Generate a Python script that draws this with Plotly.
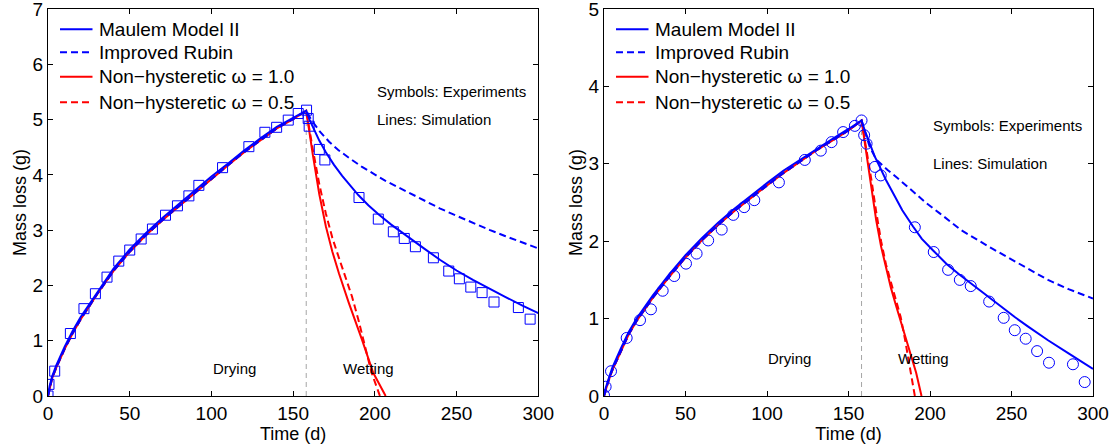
import plotly.graph_objects as go
from plotly.subplots import make_subplots

# ---------------- data: left panel (squares) ----------------
exp_t_L = [0, 0.6, 4.1, 13.7, 22, 29, 36.1, 43.3, 50, 57, 63.9, 71.9, 79.2, 86.2, 92.3, 106.8,
           122.9, 132.7, 139.9, 147, 153.1, 158.2, 159.2, 159.8, 166, 169.4, 190.3, 202.1, 211.3,
           218, 224.8, 235.8, 245.2, 251.7, 258.7, 265.6, 272.9, 287.8, 295]
exp_m_L = [0, 0.21, 0.45, 1.13, 1.58, 1.85, 2.15, 2.44, 2.64, 2.84, 3.02, 3.27, 3.44, 3.62, 3.81, 4.13,
           4.51, 4.77, 4.86, 4.99, 5.11, 5.17, 5.02, 4.88, 4.46, 4.27, 3.59, 3.2, 2.97,
           2.85, 2.70, 2.50, 2.26, 2.12, 1.97, 1.87, 1.70, 1.60, 1.39]

dry_t = [0, 1, 2.5, 5, 10, 15, 20, 25, 30, 40, 50, 60, 70, 80, 90, 100, 110, 120, 130, 140, 150, 158]
dry_m_L = [0, 0.18, 0.35, 0.55, 0.88, 1.17, 1.43, 1.65, 1.88, 2.3, 2.65, 2.95, 3.22, 3.47, 3.72,
           3.97, 4.2, 4.44, 4.66, 4.87, 5.03, 5.16]
dry_m_L_alt = [0, 0.15, 0.32, 0.51, 0.84, 1.13, 1.39, 1.61, 1.84, 2.26, 2.61, 2.91, 3.18, 3.43, 3.68,
               3.93, 4.17, 4.41, 4.63, 4.84, 5.01, 5.16]

maulem_wt_L = [160, 163, 166, 170, 175, 180, 185, 190, 196, 202, 210, 220, 230, 240, 250, 260,
               270, 280, 290, 300]
maulem_wm_L = [5.0, 4.8, 4.62, 4.41, 4.18, 3.98, 3.8, 3.63, 3.45, 3.29, 3.1, 2.88, 2.67, 2.46, 2.27,
               2.1, 1.94, 1.79, 1.64, 1.5]
rubin_wt_L = [161, 166.4, 172, 177.6, 185, 191.9, 206, 218.4, 230, 240, 250, 260, 270.5, 280, 290, 300]
rubin_wm_L = [5.0, 4.78, 4.6, 4.45, 4.29, 4.15, 3.9, 3.71, 3.54, 3.39, 3.26, 3.13, 3.0, 2.89, 2.78, 2.67]
nh10_wt_L = [162, 166, 170, 174, 178, 184, 192, 199, 206.6]
nh10_wm_L = [4.37, 3.65, 3.07, 2.61, 2.22, 1.69, 1.03, 0.42, 0]
nh05_wt_L = [162, 166, 170, 174, 178, 182, 186, 190, 194, 198, 203.1]
nh05_wm_L = [4.47, 3.83, 3.3, 2.86, 2.5, 2.17, 1.8, 1.37, 0.9, 0.42, 0]

# ---------------- data: right panel (circles) ----------------
exp_t_R = [0, 1, 4.3, 13.9, 22.1, 28.8, 36, 43.1, 50.3, 56.8, 63.9, 72.2, 79.3, 86, 92.2, 107.3,
           123.2, 133, 139.6, 146.7, 153.9, 158, 159.6, 161.1, 166.2, 169.8, 190.7, 202.3, 211.1,
           218.3, 225, 236.3, 245.2, 252, 258.7, 265.7, 273, 287.7, 294.9]
exp_m_R = [0.01, 0.12, 0.32, 0.75, 0.98, 1.12, 1.36, 1.55, 1.71, 1.84, 2.01, 2.15, 2.34, 2.44, 2.53, 2.76,
           3.05, 3.17, 3.28, 3.41, 3.49, 3.56, 3.37, 3.26, 2.96, 2.85, 2.18, 1.86, 1.63,
           1.50, 1.42, 1.22, 1.01, 0.85, 0.74, 0.58, 0.43, 0.41, 0.18]

dry_m_R = [0, 0.1, 0.2, 0.36, 0.6, 0.82, 1.0, 1.15, 1.3, 1.57, 1.82, 2.04, 2.24, 2.42, 2.59, 2.75,
           2.91, 3.05, 3.19, 3.32, 3.45, 3.56]
dry_m_R_alt = [0, 0.08, 0.18, 0.33, 0.57, 0.79, 0.97, 1.12, 1.27, 1.54, 1.79, 2.01, 2.21, 2.39, 2.56,
               2.72, 2.88, 3.03, 3.17, 3.3, 3.43, 3.56]

maulem_wt_R = [160, 163.1, 166, 169.2, 173, 177.4, 183, 189.6, 195, 201.9, 210, 218, 225.4, 236.3,
               245, 252, 260, 272.4, 285, 300]
maulem_wm_R = [3.43, 3.26, 3.1, 2.96, 2.79, 2.62, 2.4, 2.19, 2.03, 1.88, 1.71, 1.57, 1.45, 1.27,
               1.13, 1.02, 0.9, 0.72, 0.55, 0.35]
rubin_wt_R = [160, 163, 167.2, 174, 181.5, 190, 197.9, 206, 219.3, 237.7, 255, 272.4, 285, 300]
rubin_wm_R = [3.42, 3.22, 3.05, 2.92, 2.79, 2.64, 2.49, 2.36, 2.14, 1.91, 1.7, 1.5, 1.38, 1.26]
nh10_wt_R = [161, 164, 167, 170, 173, 176, 179, 182, 185, 188, 191.5, 194.8]
nh10_wm_R = [3.12, 2.68, 2.27, 1.93, 1.65, 1.4, 1.18, 0.97, 0.77, 0.56, 0.3, 0]
nh05_wt_R = [161, 164, 167, 170, 173, 176, 179, 182, 184.6, 187.5, 190.7]
nh05_wm_R = [3.2, 2.8, 2.38, 2.0, 1.7, 1.47, 1.25, 1.02, 0.74, 0.38, 0]

switch_t = 158
peak_L = 5.16
peak_R = 3.56

legend_names = ["Maulem Model II", "Improved Rubin",
                "Non\u2212hysteretic \u03c9 = 1.0", "Non\u2212hysteretic \u03c9 = 0.5"]

FONT = "Liberation Sans, Arial, Helvetica, sans-serif"
BLUE = "#0000ff"
RED = "#ff0000"
DASH = "7px,4px"

styles = [dict(color=BLUE, width=2), dict(color=BLUE, width=2, dash=DASH),
          dict(color=RED, width=2), dict(color=RED, width=2, dash=DASH)]

fig = make_subplots(rows=1, cols=2, horizontal_spacing=0.0)

panels = [
    dict(col=1, dm=dry_m_L, dma=dry_m_L_alt, peak=peak_L,
         mw=(maulem_wt_L, maulem_wm_L), rw=(rubin_wt_L, rubin_wm_L),
         n1=(nh10_wt_L, nh10_wm_L), n5=(nh05_wt_L, nh05_wm_L),
         et=exp_t_L, em=exp_m_L, sym="square-open", msize=10),
    dict(col=2, dm=dry_m_R, dma=dry_m_R_alt, peak=peak_R,
         mw=(maulem_wt_R, maulem_wm_R), rw=(rubin_wt_R, rubin_wm_R),
         n1=(nh10_wt_R, nh10_wm_R), n5=(nh05_wt_R, nh05_wm_R),
         et=exp_t_R, em=exp_m_R, sym="circle-open", msize=11),
]

for p in panels:
    c = p["col"]
    fig.add_trace(go.Scatter(x=[switch_t, switch_t], y=[0, p["peak"]], mode="lines",
                             line=dict(color="#a6a6a6", width=1, dash="5px,4px"),
                             showlegend=False, hoverinfo="skip"), row=1, col=c)
    fig.add_trace(go.Scatter(x=dry_t + p["n5"][0], y=p["dma"] + p["n5"][1], mode="lines",
                             name=legend_names[3], showlegend=False, line=styles[3]), row=1, col=c)
    fig.add_trace(go.Scatter(x=dry_t + p["n1"][0], y=p["dma"] + p["n1"][1], mode="lines",
                             name=legend_names[2], showlegend=False, line=styles[2]), row=1, col=c)
    fig.add_trace(go.Scatter(x=dry_t + p["rw"][0], y=p["dma"] + p["rw"][1], mode="lines",
                             name=legend_names[1], showlegend=False, line=styles[1]), row=1, col=c)
    fig.add_trace(go.Scatter(x=dry_t + p["mw"][0], y=p["dm"] + p["mw"][1], mode="lines",
                             name=legend_names[0], showlegend=False, line=styles[0]), row=1, col=c)
    fig.add_trace(go.Scatter(x=p["et"], y=p["em"], mode="markers", showlegend=False,
                             name="Experiments",
                             marker=dict(symbol=p["sym"], size=p["msize"], color=BLUE,
                                         line=dict(width=1, color=BLUE))), row=1, col=c)

W, H = 1115, 446
ML, MR, MT, MB = 48, 22, 9, 50
pw = W - ML - MR
ph = H - MT - MB
x1_end = (538.3 - ML) / pw
x2_start = (604 - ML) / pw

axis_common = dict(showline=True, linecolor="black", linewidth=1, mirror="ticks",
                   ticks="inside", ticklen=5, tickcolor="black", tickwidth=1,
                   showgrid=False, zeroline=False, ticklabeloverflow="allow",
                   tickfont=dict(family=FONT, size=19, color="black"),
                   title_font=dict(family=FONT, size=18, color="black"))

fig.update_xaxes(axis_common)
fig.update_yaxes(axis_common)
xt = [0, 50, 100, 150, 200, 250, 300]
fig.update_xaxes(domain=[0, x1_end], range=[0, 300], tickvals=xt,
                 title_text="Time (d)", title_standoff=0, row=1, col=1)
fig.update_xaxes(domain=[x2_start, 1], range=[0, 300], tickvals=xt,
                 title_text="Time (d)", title_standoff=0, row=1, col=2)
fig.update_yaxes(range=[0, 7], tickvals=list(range(0, 8)), title_text="Mass loss (g)",
                 title_standoff=1, row=1, col=1)
fig.update_yaxes(range=[0, 5], tickvals=list(range(0, 6)), title_text="Mass loss (g)",
                 title_standoff=1, row=1, col=2)

# text annotations inside the panels
ann = []
shapes = []
small = dict(family=FONT, size=15, color="black")
for xr, yr, t_sym, m_sym, m_lin, m_txt in [("x", "y", 200, 5.5, 5.0, 0.49),
                                           ("x2", "y2", 200.5, 3.49, 3.0, 0.49)]:
    ann.append(dict(xref=xr, yref=yr, x=t_sym, y=m_sym, text="Symbols: Experiments",
                    xanchor="left", yanchor="middle", showarrow=False, font=small))
    ann.append(dict(xref=xr, yref=yr, x=t_sym, y=m_lin, text="Lines: Simulation",
                    xanchor="left", yanchor="middle", showarrow=False, font=small))
    ann.append(dict(xref=xr, yref=yr, x=114, y=m_txt, text="Drying",
                    xanchor="center", yanchor="middle", showarrow=False, font=small))
    ann.append(dict(xref=xr, yref=yr, x=196, y=m_txt, text="Wetting",
                    xanchor="center", yanchor="middle", showarrow=False, font=small))

# legend boxes (one per panel), drawn in paper coordinates
legend_rows_px = [29.3, 52.3, 76.7, 102.3]
for line_x0 in [60, 616]:
    for i, ypx in enumerate(legend_rows_px):
        yp = (H - MB - ypx) / ph
        st = styles[i]
        shapes.append(dict(type="line", xref="paper", yref="paper",
                           x0=(line_x0 - ML) / pw, x1=(line_x0 + 32.5 - ML) / pw, y0=yp, y1=yp,
                           line=dict(color=st["color"], width=st["width"],
                                     dash=st.get("dash", "solid"))))
        ann.append(dict(xref="paper", yref="paper", x=(line_x0 + 36.5 - ML) / pw, y=yp,
                        text=legend_names[i], xanchor="left", yanchor="middle",
                        showarrow=False, font=dict(family=FONT, size=19, color="black")))

fig.update_layout(
    width=W, height=H,
    margin=dict(l=ML, r=MR, t=MT, b=MB, autoexpand=False),
    paper_bgcolor="white", plot_bgcolor="white",
    font=dict(family=FONT, color="black"),
    annotations=ann, shapes=shapes, showlegend=False,
)

fig.write_html("out.html", config={"displayModeBar": False},
               post_script="document.body.style.margin='0px';")
